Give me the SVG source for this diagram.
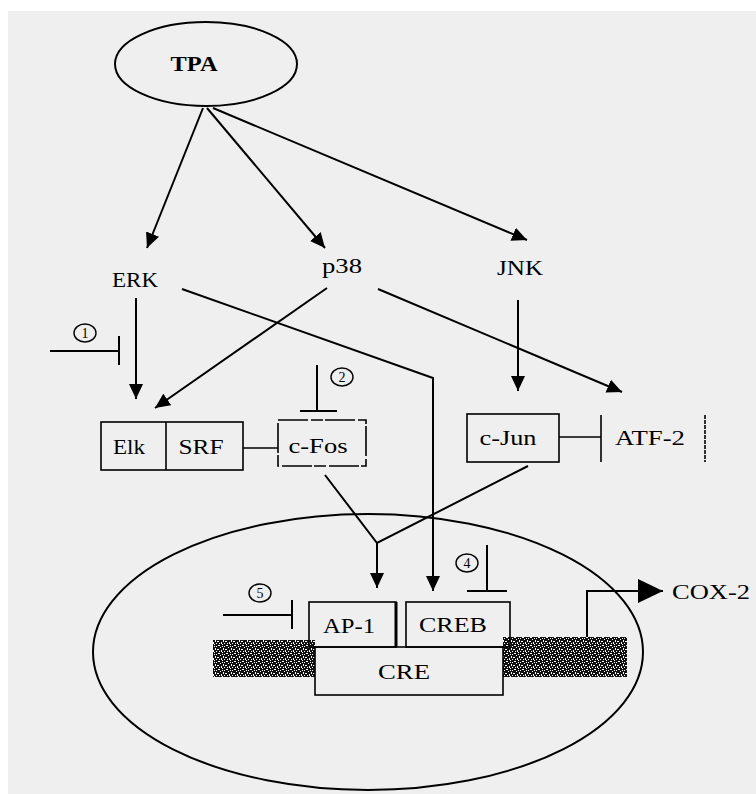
<svg xmlns="http://www.w3.org/2000/svg" width="756" height="794" viewBox="0 0 756 794">
<defs>
<style>
.bg{fill:#efefef}
.ln{stroke:#000;stroke-width:2;fill:none}
.bx{stroke:#000;stroke-width:1.6;fill:none}
.t{font-family:"Liberation Serif","Times New Roman",serif;font-size:20px;fill:#000;text-anchor:middle}
.n{font-family:"Liberation Serif","Times New Roman",serif;font-size:14px;fill:#000;text-anchor:middle}
.c{stroke:#000;stroke-width:1.4;fill:none}
</style>
<marker id="ah" markerUnits="userSpaceOnUse" markerWidth="16" markerHeight="14" refX="15" refY="7" orient="auto">
<path d="M0,0 L15,7 L0,14 z" fill="#000"/>
</marker>
<marker id="ahb" markerUnits="userSpaceOnUse" markerWidth="26" markerHeight="24" refX="25" refY="12" orient="auto">
<path d="M0,0 L25,12 L0,24 z" fill="#000"/>
</marker>
<pattern id="dna" width="8" height="8" patternUnits="userSpaceOnUse">
<rect width="8" height="8" fill="#111"/>
<rect x="1" y="1" width="2" height="1" fill="#fff"/>
<rect x="5" y="2" width="1" height="2" fill="#fff"/>
<rect x="2" y="5" width="2" height="1" fill="#fff"/>
<rect x="6" y="6" width="1" height="1" fill="#fff"/>
<rect x="0" y="3" width="1" height="1" fill="#fff"/>
<rect x="4" y="7" width="1" height="1" fill="#fff"/>
<rect x="3" y="3" width="1" height="1" fill="#fff"/>
<rect x="7" y="0" width="1" height="2" fill="#fff"/>
<rect x="6" y="4" width="1" height="1" fill="#fff"/>
<rect x="0" y="6" width="1" height="1" fill="#fff"/>
</pattern>
</defs>
<rect width="756" height="794" fill="#fff"/>
<rect class="bg" x="8" y="11" width="748" height="783"/>

<g id="nucleus">
<ellipse class="ln" cx="368" cy="652" rx="275" ry="138"/>
<rect x="213" y="640" width="102" height="37" fill="url(#dna)"/>
<rect x="503" y="637" width="124" height="40" fill="url(#dna)"/>
</g>

<g id="TPA">
<ellipse class="ln" cx="206" cy="64" rx="91" ry="42"/>
<text class="t" x="194" y="71" style="font-weight:bold" textLength="47" lengthAdjust="spacingAndGlyphs">TPA</text>
</g>
<g id="ERK"><text class="t" x="135" y="287" style="font-size:22px" textLength="46" lengthAdjust="spacingAndGlyphs">ERK</text></g>
<g id="p38"><text class="t" x="342" y="273" style="font-size:22px" textLength="40" lengthAdjust="spacingAndGlyphs">p38</text></g>
<g id="JNK"><text class="t" x="520" y="275" style="font-size:22px" textLength="46" lengthAdjust="spacingAndGlyphs">JNK</text></g>

<g id="ElkSRF">
<rect class="bx" x="101" y="422" width="142" height="48"/>
<line class="bx" x1="166" y1="422" x2="166" y2="470"/>
<text class="t" x="129" y="454" textLength="32" lengthAdjust="spacingAndGlyphs">Elk</text>
<text class="t" x="201" y="454" textLength="45" lengthAdjust="spacingAndGlyphs">SRF</text>
</g>
<g id="cFos">
<rect class="bx" x="278" y="420" width="88" height="46" stroke-dasharray="30,3,12,2"/>
<text class="t" x="318" y="453" textLength="59" lengthAdjust="spacingAndGlyphs">c-Fos</text>
</g>
<g id="cJun">
<rect class="bx" x="467" y="414" width="92" height="48"/>
<text class="t" x="508" y="445" textLength="57" lengthAdjust="spacingAndGlyphs">c-Jun</text>
</g>
<g id="ATF2">
<line class="bx" x1="601" y1="415" x2="601" y2="462"/>
<line class="bx" x1="705" y1="415" x2="705" y2="462" stroke-dasharray="4,1"/>
<text class="t" x="650" y="445" textLength="70" lengthAdjust="spacingAndGlyphs">ATF-2</text>
</g>
<g id="AP1">
<rect class="bx" x="309" y="602" width="87" height="45"/>
<line x1="396" y1="602" x2="396" y2="647" stroke="#000" stroke-width="3"/>
<text class="t" x="349" y="633" textLength="52" lengthAdjust="spacingAndGlyphs">AP-1</text>
</g>
<g id="CREB">
<rect class="bx" x="406" y="602" width="104" height="45"/>
<text class="t" x="453" y="632" textLength="68" lengthAdjust="spacingAndGlyphs">CREB</text>
</g>
<g id="CRE">
<rect class="bx" x="315" y="647" width="188" height="48" fill="#efefef"/>
<text class="t" x="404" y="679" textLength="52" lengthAdjust="spacingAndGlyphs">CRE</text>
</g>
<g id="COX2"><text class="t" x="711" y="599" textLength="78" lengthAdjust="spacingAndGlyphs">COX-2</text></g>

<g id="labels">
<ellipse class="c" cx="85" cy="333" rx="11" ry="9"/><text class="n" x="85" y="338">1</text>
<ellipse class="c" cx="342" cy="377" rx="11" ry="9"/><text class="n" x="342" y="382">2</text>
<ellipse class="c" cx="467" cy="563" rx="11" ry="9"/><text class="n" x="467" y="568">4</text>
<ellipse class="c" cx="260" cy="593" rx="11" ry="9"/><text class="n" x="260" y="598">5</text>
</g>

<g id="connectors">
<line class="ln" x1="203" y1="108" x2="147" y2="248" marker-end="url(#ah)"/>
<line class="ln" x1="207" y1="108" x2="325" y2="248" marker-end="url(#ah)"/>
<line class="ln" x1="213" y1="108" x2="527" y2="240" marker-end="url(#ah)"/>
<line class="ln" x1="136" y1="298" x2="136" y2="399" marker-end="url(#ah)"/>
<line class="ln" x1="327" y1="288" x2="155" y2="408" marker-end="url(#ah)"/>
<polyline class="ln" points="182,289 433,378 433,591" marker-end="url(#ah)"/>
<line class="ln" x1="378" y1="289" x2="622" y2="392" marker-end="url(#ah)"/>
<line class="ln" x1="518" y1="300" x2="518" y2="391" marker-end="url(#ah)"/>
<line class="ln" x1="50" y1="351" x2="119" y2="351"/>
<line class="ln" x1="119" y1="336" x2="119" y2="365"/>
<line class="ln" x1="317" y1="365" x2="317" y2="411"/>
<line class="ln" x1="300" y1="411" x2="337" y2="411"/>
<line class="bx" x1="243" y1="448" x2="278" y2="448"/>
<line class="bx" x1="559" y1="437" x2="601" y2="437"/>
<polyline class="ln" points="325,475 377,543 528,466"/>
<line class="ln" x1="377" y1="543" x2="377" y2="588" marker-end="url(#ah)"/>
<line class="ln" x1="487" y1="545" x2="487" y2="591"/>
<line class="ln" x1="467" y1="591" x2="507" y2="591" stroke-width="3"/>
<line class="ln" x1="223" y1="615" x2="292" y2="615" stroke-width="3"/>
<line class="ln" x1="292" y1="600" x2="292" y2="629"/>
<polyline class="ln" points="587,637 587,591 663,591" marker-end="url(#ahb)"/>
</g>
</svg>
